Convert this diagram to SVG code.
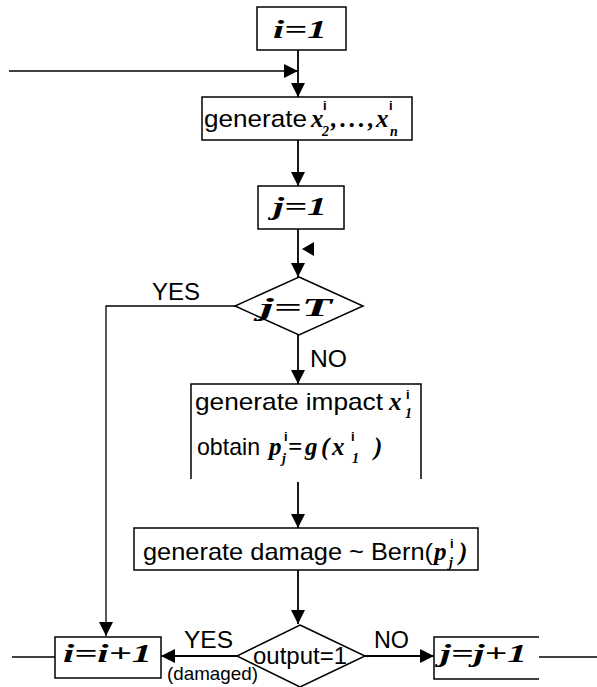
<svg xmlns="http://www.w3.org/2000/svg" width="597" height="687" viewBox="0 0 597 687">
<style>
.box{fill:#fff;stroke:#000;stroke-width:1.5}
.open{fill:none;stroke:#000;stroke-width:1.5}
.ln{fill:none;stroke:#000;stroke-width:1.8}
.thin{fill:none;stroke:#000;stroke-width:1.3}
.sans{font-family:"Liberation Sans",Arial,sans-serif;font-size:24px;fill:#000}
.small{font-family:"Liberation Sans",Arial,sans-serif;font-size:19px;fill:#000}
.math{font-family:"Liberation Serif","Times New Roman",serif;font-style:italic;font-weight:bold;font-size:26px;fill:#000}
.mi{font-family:"Liberation Serif","Times New Roman",serif;font-style:italic;font-weight:bold;font-size:25px}
.sup{font-family:"Liberation Sans",Arial,sans-serif;font-style:normal;font-weight:bold;font-size:13px}
.sub{font-family:"Liberation Serif","Times New Roman",serif;font-style:italic;font-weight:bold;font-size:14px}
</style>
<defs>
<marker id="ah" viewBox="0 0 14 14" refX="14" refY="7" markerWidth="14" markerHeight="14" markerUnits="userSpaceOnUse" orient="auto">
<path d="M0,0 L14,7 L0,14 z" fill="#000"/>
</marker>
</defs>
<g id="connectors">
<line class="thin" x1="9" y1="71" x2="298" y2="71" marker-end="url(#ah)"/>
<line class="ln" x1="298" y1="50" x2="298" y2="97" marker-end="url(#ah)"/>
<line class="ln" x1="298" y1="140" x2="298" y2="186" marker-end="url(#ah)"/>
<line class="ln" x1="298" y1="229" x2="298" y2="277" marker-end="url(#ah)"/>
<polygon points="302,249 314,242 314,256" fill="#000"/>
<polyline class="thin" points="235,306 106,306 106,636" marker-end="url(#ah)"/>
<line class="ln" x1="298" y1="335" x2="298" y2="384" marker-end="url(#ah)"/>
<line class="ln" x1="298" y1="482" x2="298" y2="528" marker-end="url(#ah)"/>
<line class="ln" x1="298" y1="570" x2="298" y2="624" marker-end="url(#ah)"/>
<line class="ln" x1="237" y1="656" x2="161" y2="656" marker-end="url(#ah)"/>
<line class="ln" x1="365" y1="656" x2="434" y2="656" marker-end="url(#ah)"/>
<line class="thin" x1="12" y1="657" x2="55" y2="657"/>
<line class="thin" x1="539" y1="657" x2="597" y2="657"/>
<text class="sans" x="152" y="300" textLength="48" lengthAdjust="spacingAndGlyphs">YES</text>
<text class="sans" x="310" y="367" textLength="37" lengthAdjust="spacingAndGlyphs">NO</text>
<text class="sans" x="184" y="648" textLength="49" lengthAdjust="spacingAndGlyphs">YES</text>
<text class="small" x="167" y="680" textLength="91" lengthAdjust="spacingAndGlyphs">(damaged)</text>
<text class="sans" x="374" y="648" textLength="35" lengthAdjust="spacingAndGlyphs">NO</text>
</g>
<g id="n_i1">
<rect class="box" x="257" y="7" width="89" height="43"/>
<text class="math" x="273" y="38" textLength="54" lengthAdjust="spacingAndGlyphs">i=1</text>
</g>
<g id="n_gen">
<rect class="box" x="202" y="97" width="210" height="43"/>
<text class="sans" y="127"><tspan x="204" textLength="103" lengthAdjust="spacingAndGlyphs">generate</tspan><tspan class="mi" x="311" y="127">x</tspan><tspan class="sup" x="323" y="110">i</tspan><tspan class="sub" x="322" y="136">2</tspan><tspan class="mi" x="331" y="127" letter-spacing="3">,...,</tspan><tspan class="mi" x="376" y="127">x</tspan><tspan class="sup" x="389" y="110">i</tspan><tspan class="sub" x="390" y="136">n</tspan></text>
</g>
<g id="n_j1">
<rect class="box" x="258" y="186" width="86" height="43"/>
<text class="math" x="273" y="215" textLength="54" lengthAdjust="spacingAndGlyphs">j=1</text>
</g>
<g id="n_jT">
<polygon class="box" points="299,277 363,306 299,335 235,306"/>
<text class="math" x="260" y="316" textLength="72" lengthAdjust="spacingAndGlyphs">j=T</text>
</g>
<g id="n_impact">
<path class="open" d="M191,479 L191,384 L421,384 L421,479"/>
<text class="sans" y="410"><tspan x="195" textLength="188" lengthAdjust="spacingAndGlyphs">generate impact</tspan><tspan class="mi" x="389" y="410">x</tspan><tspan class="sup" x="406" y="399">i</tspan><tspan class="sub" x="405" y="418">1</tspan></text>
<text class="sans" y="455"><tspan x="197" textLength="63" lengthAdjust="spacingAndGlyphs">obtain</tspan><tspan class="mi" x="269" y="455">p</tspan><tspan class="sup" x="284" y="441">i</tspan><tspan class="sub" x="282" y="463">j</tspan><tspan class="mi" x="288" y="455">=</tspan><tspan class="mi" x="305" y="455">g</tspan><tspan class="mi" x="321" y="455">(</tspan><tspan class="mi" x="332" y="455">x</tspan><tspan class="sup" x="351" y="441">i</tspan><tspan class="sub" x="352" y="463">1</tspan><tspan class="mi" x="374" y="455">)</tspan></text>
</g>
<g id="n_damage">
<rect class="box" x="134" y="528" width="344" height="42"/>
<text class="sans" y="560"><tspan x="143" textLength="290" lengthAdjust="spacingAndGlyphs">generate damage ~ Bern(</tspan><tspan class="mi" x="434" y="560">p</tspan><tspan class="sup" x="450" y="548">i</tspan><tspan class="sub" x="449" y="567">j</tspan><tspan class="mi" x="459" y="560">)</tspan></text>
</g>
<g id="n_out">
<polygon class="box" points="300,625 365,656 300,687 237,656"/>
<text class="sans" x="253" y="664" textLength="94" lengthAdjust="spacingAndGlyphs">output=1</text>
</g>
<g id="n_ii1">
<rect class="box" x="55" y="637" width="106" height="41"/>
<text class="math" x="63" y="662" textLength="89" lengthAdjust="spacingAndGlyphs">i=i+1</text>
</g>
<g id="n_jj1">
<path class="open" d="M539,637 L434,637 L434,679 L539,679"/>
<text class="math" x="440" y="662" textLength="87" lengthAdjust="spacingAndGlyphs">j=j+1</text>
</g>
</svg>
